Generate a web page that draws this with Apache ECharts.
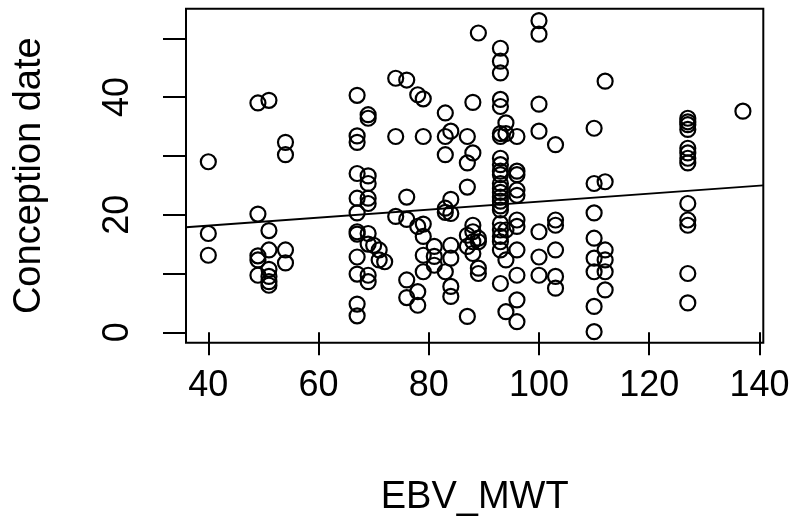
<!DOCTYPE html>
<html>
<head>
<meta charset="utf-8">
<script src="https://cdn.jsdelivr.net/npm/echarts@6.0.0/dist/echarts.min.js"></script>
<style>
html,body{margin:0;padding:0;background:#fff;}
#chart{width:797px;height:530px;}
</style>
</head>
<body>
<div id="chart"></div>
<script>
// EBV_MWT values (x) and conception dates (y)
const ebv = [
  40,40,40,
  49,49,49,49,49,
  51,51,51,51,51,51,51,
  54,54,54,54,
  67,67,67,67,67,67,67,67,67,67,67,67,
  69,69,69,69,69,69,69,69,69,69,
  70,71,71,72,
  74,74,74,
  76,76,76,76,76,
  78,78,78,78,
  79,79,79,79,79,79,
  81,81,81,
  83,83,83,83,83,83,
  84,84,84,84,84,84,84,
  87,87,87,87,87,87,
  88,88,88,88,88,88,
  89,89,89,89,89,
  93,93,93,93,93,93,93,93,93,93,93,93,93,93,93,93,93,93,93,93,93,93,93,93,
  94,94,94,94,94,
  96,96,96,96,96,96,96,96,96,96,96,
  100,100,100,100,100,100,100,
  103,103,103,103,103,103,
  110,110,110,110,110,110,110,110,
  112,112,112,112,112,112,
  127,127,127,127,127,127,127,127,127,127,127,127,127,
  137
];
const conception = [
  29,16.8,13.1,
  39.0,20.1,13.0,12.3,9.7,
  39.45,17.3,14.0,10.7,9.5,8.6,8.0,
  32.3,30.2,14.0,11.8,
  40.3,33.4,32.3,27.0,22.8,20.3,17.1,16.7,12.8,9.9,4.8,2.8,
  37.0,36.4,26.6,25.3,22.8,21.9,16.8,15.0,9.7,8.6,
  14.8,14.0,12.3,12.0,
  43.2,33.3,19.7,
  42.9,23.0,19.2,8.9,5.9,
  40.4,18.0,6.9,4.6,
  39.7,33.3,18.4,16.3,13.1,10.3,
  14.6,12.9,11.4,
  37.3,33.3,30.2,21.1,20.4,10.3,
  34.2,22.6,20.2,14.8,12.6,7.8,6.1,
  33.3,28.8,24.7,16.5,14.6,2.7,
  39.1,30.5,18.2,17.1,15.4,13.4,
  50.9,16.0,15.4,10.9,10.0,
  48.3,46.1,44.1,39.6,38.4,33.8,33.3,29.6,28.5,27.4,26.8,25.3,24.5,23.8,23.0,22.3,21.5,20.8,18.5,17.4,16.3,15.4,14.0,8.3,
  35.6,33.8,17.4,12.3,3.5,
  33.3,27.4,26.8,24.2,23.3,19.1,18.0,14.0,9.7,5.5,1.8,
  53.0,50.7,38.8,34.2,17.1,12.8,9.7,
  31.9,19.1,18.2,14.0,9.5,7.5,
  34.7,25.3,20.3,16.0,12.6,10.3,4.4,0.1,
  42.7,25.6,14.0,12.3,10.3,7.2,
  36.4,35.8,35.3,34.5,31.3,30.5,29.6,28.8,21.9,19.1,18.2,10.0,5.0,
  37.6
];
// fitted line end points (across the plot region)
const fitX = [35.95, 140.7];
const fitY = [17.86, 25.0];
// axis ticks and labels
const xTicks = [40, 60, 80, 100, 120, 140];
const yTicks = [0, 10, 20, 30, 40, 50];
const yLabels = [0, 20, 40];
const xRange = [35.95, 140.7];
const yRange = [-1.77, 55.03];

const FONT = '"Liberation Sans", Arial, sans-serif';
const chart = echarts.init(document.getElementById('chart'), null, {renderer: 'canvas'});

const points = ebv.map((x, i) => [x, conception[i]]);
const fit = fitX.map((x, i) => [x, fitY[i]]);

chart.setOption({
  animation: false,
  backgroundColor: '#fff',
  grid: {
    left: 186, top: 8.7, right: 797 - 763.3, bottom: 530 - 342.7,
    show: true, borderColor: '#000', borderWidth: 2, backgroundColor: 'transparent'
  },
  xAxis: {
    type: 'value', min: xRange[0], max: xRange[1],
    axisLine: {show: false},
    splitLine: {show: false},
    axisTick: {show: true, length: 23, lineStyle: {color: '#000', width: 2}, customValues: xTicks},
    axisLabel: {
      customValues: xTicks, color: '#000', fontFamily: FONT, fontSize: 36,
      lineHeight: 36, margin: 25
    }
  },
  yAxis: {
    type: 'value', min: yRange[0], max: yRange[1],
    axisLine: {show: false},
    splitLine: {show: false},
    axisTick: {show: true, length: 23, lineStyle: {color: '#000', width: 2}, customValues: yTicks},
    axisLabel: {
      customValues: yLabels, color: '#000', fontFamily: FONT, fontSize: 36,
      lineHeight: 36, rotate: 90, margin: 50
    }
  },
  graphic: [
    {type: 'text', x: 474.7, y: 498, style: {text: 'EBV_MWT', font: '38px ' + FONT, fill: '#000', textAlign: 'center', textVerticalAlign: 'middle'}},
    {type: 'text', x: 30, y: 175.7, rotation: Math.PI / 2, style: {text: 'Conception date', font: '38px ' + FONT, fill: '#000', textAlign: 'center', textVerticalAlign: 'middle'}}
  ],
  series: [
    {
      type: 'scatter', data: points, symbol: 'circle', symbolSize: 15,
      itemStyle: {color: 'rgba(0,0,0,0)', borderColor: '#000', borderWidth: 2.2, opacity: 1},
      silent: true
    },
    {
      type: 'line', data: fit, showSymbol: false, symbol: 'none',
      lineStyle: {color: '#000', width: 1.8}, silent: true
    }
  ]
});
</script>
</body>
</html>
